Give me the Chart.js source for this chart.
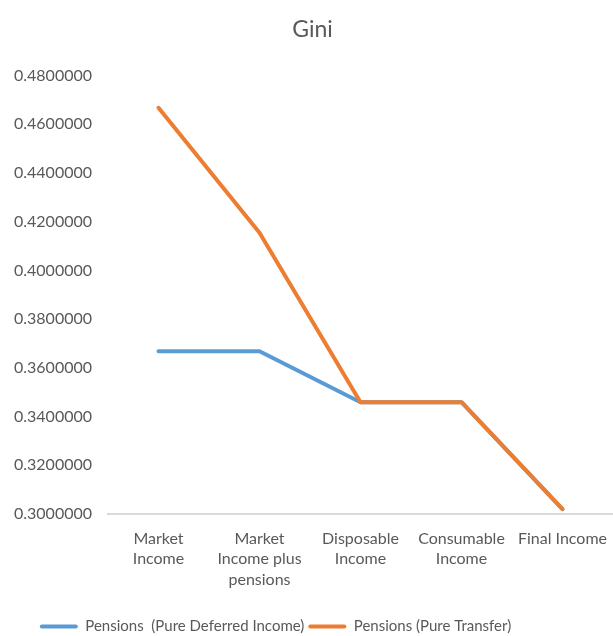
<!DOCTYPE html>
<html>
<head>
<meta charset="utf-8">
<script src="https://cdn.jsdelivr.net/npm/chart.js@4"></script>
<style>
  body { margin: 0; background: #fff; }
  #wrap { width: 613px; height: 636px; position: relative; }
</style>
</head>
<body>
<div id="wrap"><canvas id="chart"></canvas></div>
<script>
// Gini coefficient by income concept
const categories = [
    ['Market', 'Income'],
    ['Market', 'Income plus', 'pensions'],
    ['Disposable', 'Income'],
    ['Consumable', 'Income'],
    'Final Income'
];
const deferredIncome = [0.3668, 0.3668, 0.3459, 0.3459, 0.3020];
const pureTransfer = [0.4668, 0.4155, 0.3459, 0.3459, 0.3020];
const yMin = 0.30, yMax = 0.48, yStep = 0.02;

const textColor = '#595959';
const fontFamily = 'Lato, "Noto Sans", sans-serif';

// nudge the legend a bit left of centre
const legendShift = {
    id: 'legendShift',
    afterLayout(c) {
        c.legend.left -= 37;
        c.legend.right -= 37;
    }
};

const ctx = document.getElementById('chart').getContext('2d');
const chart = new Chart(ctx, {
    type: 'line',
    data: {
        labels: categories,
        datasets: [{
            label: 'Pensions  (Pure Deferred Income)',
            data: deferredIncome,
            borderColor: '#5B9BD5',
            backgroundColor: '#5B9BD5',
            borderWidth: 4,
            borderCapStyle: 'round',
            borderJoinStyle: 'round',
            pointRadius: 0,
            tension: 0,
            order: 1
        }, {
            label: 'Pensions (Pure Transfer)',
            data: pureTransfer,
            borderColor: '#ED7D31',
            backgroundColor: '#ED7D31',
            borderWidth: 4,
            borderCapStyle: 'round',
            borderJoinStyle: 'round',
            pointRadius: 0,
            tension: 0,
            order: 0  // orange drawn on top where the lines meet
        }]
    },
    plugins: [legendShift],
    options: {
        responsive: true,
        maintainAspectRatio: false,
        animation: false,
        layout: { padding: { left: 12, right: 0, top: 14, bottom: -8 } },
        plugins: {
            title: {
                display: true,
                text: 'Gini',
                color: textColor,
                font: { family: fontFamily, size: 23, weight: 'normal' },
                padding: { top: 2, bottom: 32 }
            },
            legend: {
                position: 'bottom',
                labels: {
                    color: textColor,
                    font: { family: fontFamily, size: 15 },
                    boxWidth: 38,
                    boxHeight: 4,
                    padding: 4,
                    useBorderRadius: true,
                    borderRadius: 2,
                    generateLabels: c => Chart.defaults.plugins.legend.labels.generateLabels(c)
                        .map(l => ({ ...l, lineWidth: 0 })),
                    sort: (a, b) => a.datasetIndex - b.datasetIndex
                }
            },
            tooltip: { enabled: false }
        },
        scales: {
            x: {
                offset: true,
                grid: { display: false, drawTicks: false },
                border: { color: '#d9d9d9', width: 2 },
                ticks: {
                    color: textColor,
                    font: { family: fontFamily, size: 16, lineHeight: 1.3 },
                    maxRotation: 0,
                    autoSkip: false,
                    padding: 14
                },
                // plot runs to the right edge, labels may overhang; extra room above the legend
                afterFit: s => { s.paddingRight = 0; s.height = 101; }
            },
            y: {
                min: yMin,
                max: yMax,
                grid: { display: false, drawTicks: false },
                border: { display: false },
                ticks: {
                    stepSize: yStep,
                    color: textColor,
                    font: { family: fontFamily, size: 16 },
                    padding: 16,
                    callback: v => v.toFixed(7)
                },
                afterFit: s => { s.width = 96; }
            }
        }
    }
});
</script>
</body>
</html>
